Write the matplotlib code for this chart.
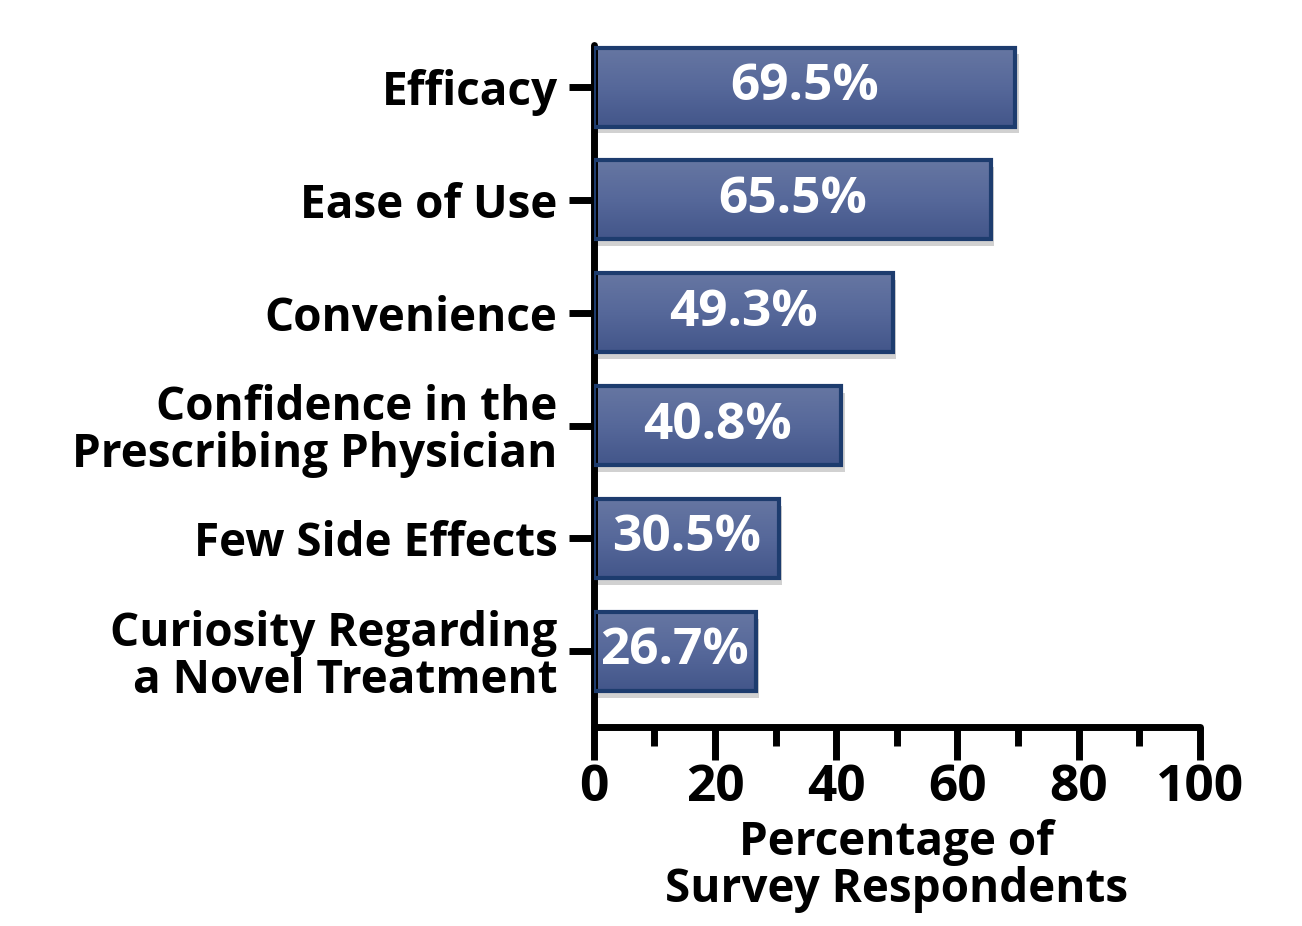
import matplotlib.pyplot as plt
import numpy as np
from matplotlib.patches import Rectangle
from matplotlib.colors import LinearSegmentedColormap

# Reasons for choosing the treatment (survey)
reasons = ['Efficacy', 'Ease of Use', 'Convenience',
           'Confidence in the\nPrescribing Physician', 'Few Side Effects',
           'Curiosity Regarding\na Novel Treatment']
percent = [69.5, 65.5, 49.3, 40.8, 30.5, 26.7]
xticks = [0, 20, 40, 60, 80, 100]

plt.rcParams['font.family'] = ['Open Sans', 'DejaVu Sans']
plt.rcParams['font.weight'] = 'bold'

fig = plt.figure(figsize=(13.02, 9.26), dpi=100)
ax = fig.add_axes([0.456, 0.215, 0.4655, 0.736])

n = len(reasons)
ypos = np.arange(n)[::-1]
bar_h = 0.7

# soft vertical gradient for the bar fill
grad = LinearSegmentedColormap.from_list('bar', ['#6676a2', '#56689a', '#43568a'])
g = np.linspace(0, 1, 64).reshape(-1, 1)

for y, v in zip(ypos, percent):
    # drop shadow
    sh = Rectangle((0.6, y - bar_h / 2 - 0.06), v, bar_h, facecolor='#000000',
                   alpha=0.18, edgecolor='none', zorder=1)
    ax.add_patch(sh)
    im = ax.imshow(g, cmap=grad, aspect='auto', zorder=2,
                   extent=(0, v, y - bar_h / 2, y + bar_h / 2))
    rect = Rectangle((0, y - bar_h / 2), v, bar_h, facecolor='none',
                     edgecolor='#1d3c6e', linewidth=3, zorder=3)
    ax.add_patch(rect)
    im.set_clip_path(rect)
    ax.text(v / 2, y, f'{v}%', ha='center', va='center', color='white',
            fontsize=37, fontweight='bold', zorder=4)

ax.set_xlim(0, 100)
ax.set_ylim(-0.67, n - 1 + 0.37)
ax.set_yticks(ypos)
ax.set_yticklabels(reasons, fontsize=33, fontweight='bold', linespacing=1.0)
ax.set_xticks(xticks)
ax.set_xticklabels([str(t) for t in xticks], fontsize=37, fontweight='bold')
ax.set_xticks(np.arange(10, 100, 20), minor=True)

ax.tick_params(axis='y', length=18, width=5, pad=8)
ax.tick_params(axis='x', which='major', length=24, width=5, pad=2)
ax.tick_params(axis='x', which='minor', length=14, width=5)

for side in ['top', 'right']:
    ax.spines[side].set_visible(False)
for side in ['left', 'bottom']:
    ax.spines[side].set_linewidth(5)
    ax.spines[side].set_capstyle('round')

ax.set_xlabel('Percentage of\nSurvey Respondents', fontsize=33,
              fontweight='bold', linespacing=1.0, labelpad=4)

fig.savefig('out.png', dpi=100, facecolor='white')
